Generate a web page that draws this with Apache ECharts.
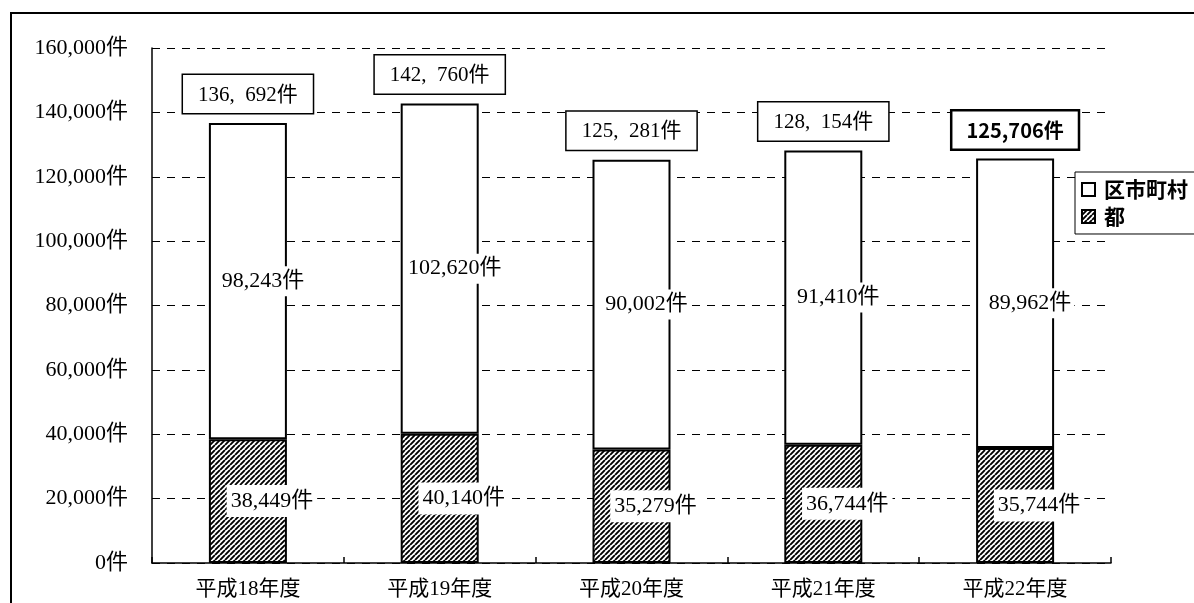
<!DOCTYPE html>
<html>
<head>
<meta charset="utf-8">
<script src="https://cdn.jsdelivr.net/npm/echarts@6/dist/echarts.min.js"></script>
<style>
html,body{margin:0;padding:0;background:#fff;}
#chart{width:1194px;height:603px;}
</style>
</head>
<body>
<div id="chart"></div>
<script>
const categories = ['平成18年度', '平成19年度', '平成20年度', '平成21年度', '平成22年度'];
const tokyo = [38449, 40140, 35279, 36744, 35744];          // 都
const municipal = [98243, 102620, 90002, 91410, 89962];    // 区市町村
const totals = [136692, 142760, 125281, 128154, 125706];
const yTickValues = [0, 20000, 40000, 60000, 80000, 100000, 120000, 140000, 160000];

const SERIF = '"Liberation Serif", "DejaVu Serif", "Noto Sans CJK JP", serif';
const SANS = '"Noto Sans CJK JP", "Noto Sans", sans-serif';

function fmt(v) { return Number(v).toLocaleString('en-US') + '件'; }

// hatch pattern: diagonal "/" stripes
const S = 5;
const pc = document.createElement('canvas');
pc.width = S; pc.height = S;
const px = pc.getContext('2d');
px.fillStyle = '#fff'; px.fillRect(0, 0, S, S);
px.strokeStyle = '#000'; px.lineWidth = 1.9;
px.beginPath();
for (let k = -S; k <= S; k += S) { px.moveTo(k, S); px.lineTo(k + S, 0); }
px.stroke();
const hatch = { image: pc, repeat: 'repeat' };

const chart = echarts.init(document.getElementById('chart'), null, { renderer: 'canvas' });

const totalData = totals.map((v, i) => {
  if (i === totals.length - 1) {
    return {
      value: v,
      label: {
        fontFamily: SANS, fontWeight: 'bold', fontSize: 20, lineHeight: 22,
        borderWidth: 2.5,
        formatter: p => fmt(p.value),
        padding: [8, 14, 7, 14]
      }
    };
  }
  return v;
});

chart.setOption({
  animation: false,
  backgroundColor: '#fff',
  graphic: [{
    type: 'rect', z: -10, silent: true,
    shape: { x: 11, y: 13, width: 1400, height: 800 },
    style: { fill: null, stroke: '#000', lineWidth: 2 }
  }],
  grid: { left: 152, right: 83, top: 48, bottom: 40 },
  legend: {
    data: ['区市町村', '都'],
    orient: 'vertical',
    left: 1075, top: 172,
    padding: [7, 10, 7, 6],
    itemGap: 6,
    itemWidth: 13, itemHeight: 13,
    icon: 'rect',
    borderColor: '#000', borderWidth: 1,
    backgroundColor: '#fff',
    textStyle: { fontFamily: SANS, fontWeight: 'bold', fontSize: 21, color: '#000', padding: [0, 0, 0, 4] }
  },
  xAxis: {
    type: 'category',
    data: categories,
    axisLine: { lineStyle: { color: '#000', width: 1.5 } },
    axisTick: { show: true, inside: true, length: 6, lineStyle: { color: '#000', width: 1.5 } },
    axisLabel: { fontFamily: SERIF, fontSize: 21, color: '#000', margin: 16 }
  },
  yAxis: {
    type: 'value',
    min: yTickValues[0], max: yTickValues[yTickValues.length - 1], interval: 20000,
    axisLine: { show: true, lineStyle: { color: '#000', width: 1.5 } },
    axisTick: { show: false },
    splitLine: { lineStyle: { color: '#000', width: 1, type: [8, 7] } },
    axisLabel: { fontFamily: SERIF, fontSize: 22, color: '#000', margin: 24, formatter: v => fmt(v) }
  },
  series: [
    {
      name: '都', type: 'bar', stack: 'a', barWidth: 78,
      data: tokyo,
      itemStyle: { color: hatch, borderColor: '#000', borderWidth: 2 },
      label: {
        show: true, position: 'inside', offset: [24, 0],
        fontFamily: SERIF, fontSize: 22, color: '#000',
        backgroundColor: '#fff', padding: [6, 4, 4, 4],
        formatter: p => fmt(p.value)
      }
    },
    {
      name: '区市町村', type: 'bar', stack: 'a', barWidth: 78,
      data: municipal,
      itemStyle: { color: '#fff', borderColor: '#000', borderWidth: 2 },
      label: {
        show: true, position: 'inside', offset: [15, 0],
        fontFamily: SERIF, fontSize: 22, color: '#000',
        backgroundColor: '#fff', padding: [4, 3],
        formatter: p => fmt(p.value)
      }
    },
    {
      name: '合計', type: 'scatter', symbolSize: 0, silent: true,
      data: totalData,
      z: 5,
      itemStyle: { opacity: 1 },
      label: {
        show: true, position: 'top', distance: 10,
        fontFamily: SERIF, fontSize: 21, lineHeight: 22, color: '#000',
        backgroundColor: '#fff', borderColor: '#000', borderWidth: 1.5,
        padding: [9, 15, 7, 15],
        formatter: p => Number(p.value).toLocaleString('en-US').replace(',', ',\u2002') + '件'
      }
    }
  ]
});
</script>
</body>
</html>
